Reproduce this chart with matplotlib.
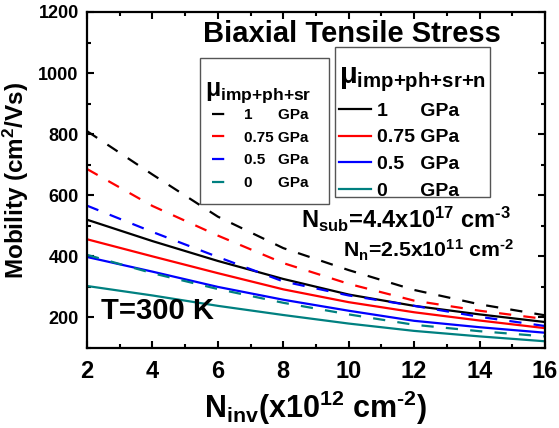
import matplotlib
matplotlib.use('Agg')
import matplotlib.pyplot as plt
from matplotlib.patches import Rectangle
from matplotlib.ticker import MultipleLocator

plt.rcParams['font.family'] = ['Liberation Sans', 'DejaVu Sans']
plt.rcParams['font.weight'] = 'bold'
plt.rcParams['axes.labelweight'] = 'bold'
plt.rcParams['mathtext.fontset'] = 'custom'
plt.rcParams['mathtext.rm'] = 'Liberation Sans:bold'
plt.rcParams['mathtext.it'] = 'Liberation Sans:bold'
plt.rcParams['mathtext.bf'] = 'Liberation Sans:bold'
plt.rcParams['mathtext.sf'] = 'Liberation Sans:bold'

# inversion charge density (x10^12 cm^-2)
n_inv = [2, 4, 6, 8, 10, 12, 14, 16]
stress = ['1', '0.75', '0.5', '0']
colors = ['black', 'red', 'blue', '#008080']

# mobility imp+ph+sr (dashed)
mu_sr_1 = [810, 668, 530, 427, 355, 290, 243, 207]
mu_sr_075 = [686, 565, 468, 378, 310, 255, 222, 195]
mu_sr_05 = [566, 480, 398, 318, 272, 238, 202, 172]
mu_sr_0 = [405, 345, 293, 248, 210, 176, 155, 138]

# mobility imp+ph+sr+n (solid)
mu_n_1 = [520, 450, 385, 326, 275, 238, 210, 185]
mu_n_075 = [456, 400, 345, 292, 250, 217, 190, 165]
mu_n_05 = [398, 350, 300, 258, 222, 189, 168, 150]
mu_n_0 = [303, 272, 238, 208, 180, 156, 138, 122]

dashed_sets = [mu_sr_1, mu_sr_075, mu_sr_05, mu_sr_0]
solid_sets = [mu_n_1, mu_n_075, mu_n_05, mu_n_0]

W, H = 559, 428


def gpa_label(s):
    # pad the numbers with figure/punctuation spaces so GPa lines up
    pads = {'1': '\u2007\u2007\u2008', '0.75': '', '0.5': '\u2007', '0': '\u2007\u2007\u2008'}
    return s + pads[s] + ' GPa'


def fig_xy(px, py):
    return px / W, 1 - py / H


fig = plt.figure(figsize=(W / 100, H / 100), dpi=100)
ax = fig.add_axes([87 / W, 80 / H, 458 / W, 336 / H])

dash_handles = []
solid_handles = []
for s, c, yd, ys in zip(stress, colors, dashed_sets, solid_sets):
    hd, = ax.plot(n_inv, yd, color=c, lw=1.6, ls=(0, (5.5, 5.5)), label=gpa_label(s))
    hs, = ax.plot(n_inv, ys, color=c, lw=1.6, label=gpa_label(s))
    dash_handles.append(hd)
    solid_handles.append(hs)

ax.set_xlim(2, 16)
ax.set_ylim(100, 1200)
ax.xaxis.set_major_locator(MultipleLocator(2))
ax.xaxis.set_minor_locator(MultipleLocator(1))
ax.yaxis.set_minor_locator(MultipleLocator(100))
ax.set_yticks([200, 400, 600, 800, 1000, 1200])
for sp in ax.spines.values():
    sp.set_linewidth(1.6)
ax.tick_params(which='both', direction='in', top=True, right=True, width=1.5)
ax.tick_params(which='major', length=5)
ax.tick_params(which='minor', length=3)
ax.tick_params(axis='x', labelsize=17, pad=9)
ax.tick_params(axis='y', labelsize=13, pad=6)
for lab in ax.get_xticklabels() + ax.get_yticklabels():
    lab.set_fontweight('bold')

ax.set_xlabel(r'N$_{\text{inv}}$(x10$^{\text{12}}$ cm$^{\text{-2}}$)', fontsize=22, labelpad=4)
ax.set_ylabel(r'Mobility (cm$^{\text{2}}$/Vs)', fontsize=17.5, labelpad=5)

ax.text(0.578, 0.935, 'Biaxial Tensile Stress', transform=ax.transAxes,
        fontsize=21, ha='center', va='center')
ax.text(0.03, 0.11, 'T=300 K', transform=ax.transAxes, fontsize=21,
        ha='left', va='center')
ax.text(0.468, 0.383, r'N$_{\text{sub}}$=4.4x10$^{\text{17}}$ cm$^{\text{-3}}$',
        transform=ax.transAxes, fontsize=17, ha='left', va='center')
ax.text(0.558, 0.29, r'N$_{\text{n}}$=2.5x10$^{\text{11}}$ cm$^{\text{-2}}$',
        transform=ax.transAxes, fontsize=15.3, ha='left', va='center')

# legend frames
for (x0, y0, x1, y1) in [(200, 58, 329, 204), (335, 47, 490, 197)]:
    ax.add_patch(Rectangle(fig_xy(x0, y1), (x1 - x0) / W, (y1 - y0) / H,
                           transform=fig.transFigure, facecolor='white',
                           edgecolor='#555555', lw=1.0, zorder=4))

fig.text(*fig_xy(205, 93), r'$\mu_{\text{imp+ph+sr}}$', fontsize=18,
         ha='left', va='center', zorder=6)
fig.text(*fig_xy(339, 80), r'$\mu_{\text{imp+ph+sr+n}}$', fontsize=21,
         ha='left', va='center', zorder=6)

leg1 = ax.legend(handles=dash_handles, loc='upper left',
                 bbox_to_anchor=fig_xy(212, 108), bbox_transform=fig.transFigure,
                 borderaxespad=0, borderpad=0, frameon=False, fontsize=11,
                 handlelength=1.6, handletextpad=0.5, labelspacing=0.57)
ax.add_artist(leg1)

leg2 = ax.legend(handles=solid_handles, loc='upper left',
                 bbox_to_anchor=fig_xy(339, 102), bbox_transform=fig.transFigure,
                 borderaxespad=0, borderpad=0, frameon=False, fontsize=14,
                 handlelength=1.65, handletextpad=0.3, labelspacing=0.47)

fig.savefig('out.png', dpi=100)
